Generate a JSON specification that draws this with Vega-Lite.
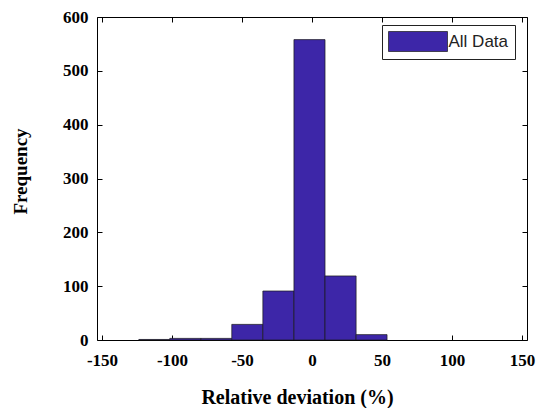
{
  "$schema": "https://vega.github.io/schema/vega-lite/v6.json",
  "autosize": {"type": "none"},
  "padding": {"left": 97, "top": 17, "right": 14, "bottom": 68},
  "width": 430,
  "height": 323,
  "background": "white",
  "config": {
    "view": {"stroke": "black", "strokeWidth": 1},
    "axis": {
      "grid": false,
      "zindex": 1,
      "domain": false,
      "offset": -5,
      "tickSize": 5,
      "tickColor": "black",
      "tickWidth": 1,
      "labelColor": "black",
      "titleColor": "black",
      "labelFont": "Liberation Serif",
      "labelFontWeight": "bold",
      "labelFontSize": 17,
      "titleFont": "Liberation Serif",
      "titleFontWeight": "bold",
      "titleFontSize": 19
    }
  },
  "data": {
    "values": [
      {"bin_start": -123.7, "bin_end": -101.6, "count": 1, "series": "All Data"},
      {"bin_start": -101.6, "bin_end": -79.4, "count": 3, "series": "All Data"},
      {"bin_start": -79.4, "bin_end": -57.3, "count": 3, "series": "All Data"},
      {"bin_start": -57.3, "bin_end": -35.1, "count": 29, "series": "All Data"},
      {"bin_start": -35.1, "bin_end": -12.9, "count": 91, "series": "All Data"},
      {"bin_start": -12.9, "bin_end": 9.3, "count": 558, "series": "All Data"},
      {"bin_start": 9.3, "bin_end": 31.5, "count": 119, "series": "All Data"},
      {"bin_start": 31.5, "bin_end": 53.6, "count": 10, "series": "All Data"}
    ]
  },
  "resolve": {"axis": {"x": "independent", "y": "independent"}},
  "layer": [
    {
      "mark": {"type": "bar", "orient": "vertical", "stroke": "#1a1a1a", "strokeWidth": 0.7, "opacity": 1},
      "encoding": {
        "x": {
          "field": "bin_start", "type": "quantitative",
          "scale": {"domain": [-150, 150], "nice": false, "zero": false},
          "axis": {
            "orient": "bottom",
            "values": [-150, -100, -50, 0, 50, 100, 150],
            "labelExpr": "(datum.value < 0 ? '-' : '') + abs(datum.value)",
            "labelPadding": 12,
            "labelFlush": false,
            "title": "Relative deviation (%)",
            "titleFontSize": 20,
            "titleX": 200,
            "titleY": 68,
            "titleBaseline": "alphabetic",
            "titleAnchor": "middle"
          }
        },
        "x2": {"field": "bin_end"},
        "y": {
          "field": "count", "type": "quantitative",
          "scale": {"domain": [0, 600], "nice": false},
          "axis": {
            "orient": "left",
            "values": [0, 100, 200, 300, 400, 500, 600],
            "labelPadding": 9,
            "labelFlush": false,
            "title": "Frequency",
            "titleX": -76,
            "titleY": 154,
            "titleAngle": -90,
            "titleBaseline": "alphabetic",
            "titleAnchor": "middle"
          }
        },
        "y2": {"datum": 0},
        "color": {
          "field": "series", "type": "nominal",
          "scale": {"range": ["#3D26A8"]},
          "legend": {
            "title": null,
            "orient": "none",
            "legendX": 285,
            "legendY": 8,
            "padding": 6,
            "strokeColor": "#222222",
            "fillColor": "white",
            "symbolType": "M-2.95,-1H2.95V1H-2.95Z",
            "symbolSize": 400,
            "symbolOffset": 19.5,
            "symbolStrokeColor": "#1a1a1a",
            "symbolStrokeWidth": 0.7,
            "symbolOpacity": 1,
            "labelFont": "Liberation Sans",
            "labelFontSize": 17,
            "labelColor": "#222222",
            "labelOffset": 20
          }
        }
      }
    },
    {
      "mark": {"type": "bar", "orient": "vertical", "opacity": 0},
      "encoding": {
        "x": {
          "field": "bin_start", "type": "quantitative",
          "axis": {
            "orient": "top",
            "values": [-150, -100, -50, 0, 50, 100, 150],
            "labels": false,
            "title": null
          }
        },
        "x2": {"field": "bin_end"},
        "y": {
          "field": "count", "type": "quantitative",
          "axis": {
            "orient": "right",
            "values": [0, 100, 200, 300, 400, 500, 600],
            "labels": false,
            "title": null
          }
        },
        "y2": {"datum": 0}
      }
    }
  ]
}
